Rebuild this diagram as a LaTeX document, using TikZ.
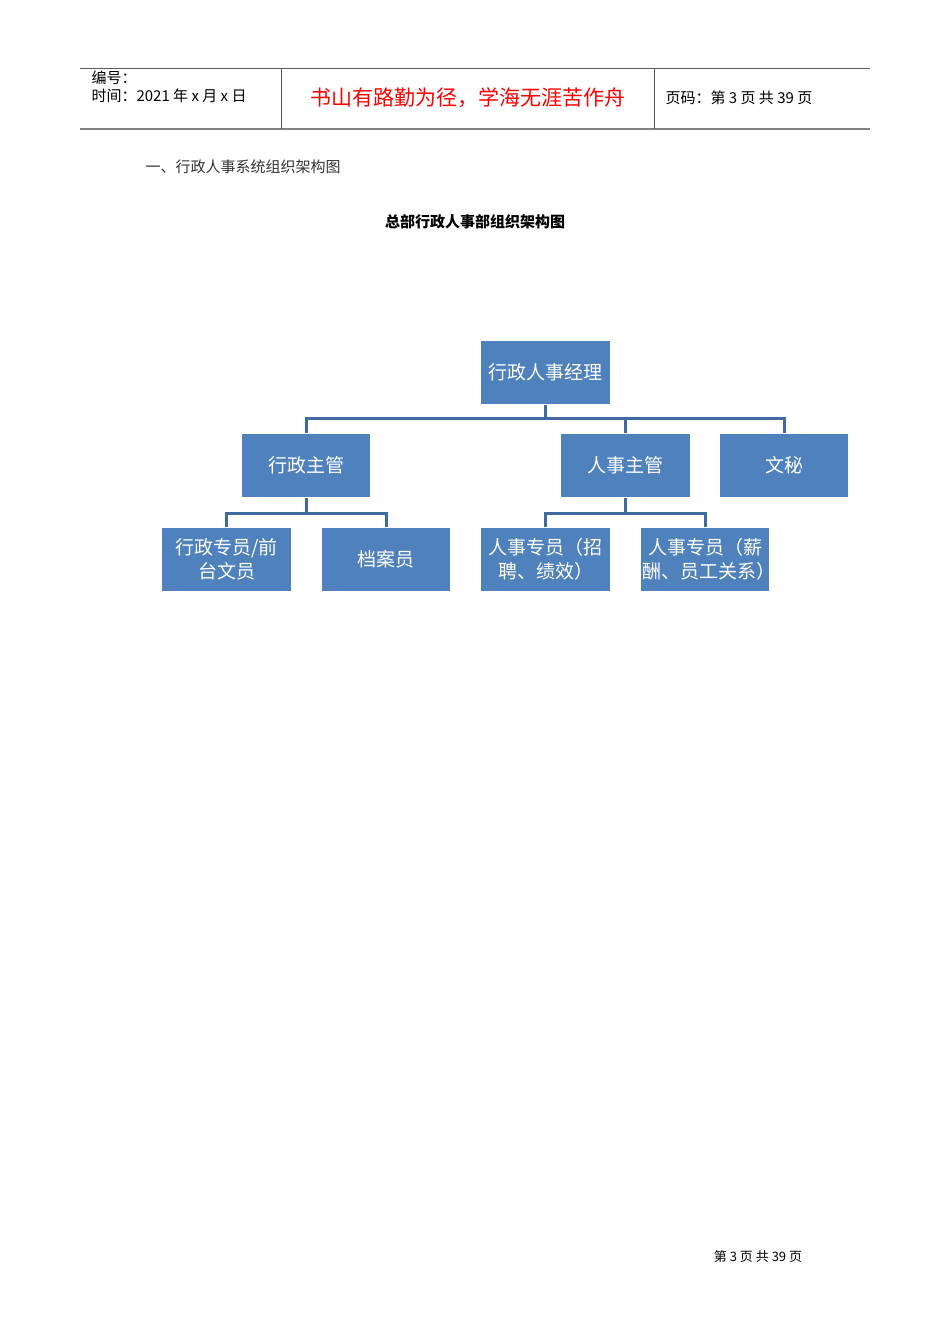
\documentclass[tikz,border=0pt]{standalone}
\usepackage{fontspec}
\setmainfont{Noto Sans CJK SC}
\newfontfamily\cjk{Noto Sans CJK SC}
\begin{document}
\begin{tikzpicture}[x=1pt,y=-1pt,
  box/.style={draw=white,line width=1.5pt,fill=boxblue,minimum width=130pt,minimum height=64pt,inner sep=1pt,text=white,font=\fontsize{19}{24}\selectfont,align=center,text width=126pt},
  conn/.style={draw=lineblue,line width=3pt}]
\definecolor{boxblue}{HTML}{4F81BD}
\definecolor{lineblue}{HTML}{3F6B9E}
\useasboundingbox (0,0) rectangle (950,1344);
% header
\draw[line width=0.8pt,gray!70!black] (80,68) -- (870,68);
\draw[line width=1.2pt,gray] (80,129) -- (870,129);
\draw[line width=0.6pt,gray!70!black] (281,68) -- (281,129) (654,68) -- (654,129);
\node[anchor=west,font=\fontsize{15}{17}\selectfont] (h1) at (88,78) {编号：};
\node[anchor=west,font=\fontsize{15}{17}\selectfont] (h2) at (88,96) {时间：2021 年 x 月 x 日};
\node[font=\fontsize{21}{24}\selectfont,text=red] (h3) at (468,98) {书山有路勤为径，学海无涯苦作舟};
\node[anchor=west,font=\fontsize{15}{17}\selectfont] (h4) at (662,98) {页码：第 3 页 共 39 页};
\node[anchor=west,font=\fontsize{15}{17}\selectfont,text=black!80] (t1) at (142,167) {一、行政人事系统组织架构图};
\node[font=\bfseries\fontsize{15}{17}\selectfont] (t2) at (475,222) {总部行政人事部组织架构图};
\node[font=\fontsize{13}{15}\selectfont] (ft) at (758,1257) {第 3 页 共 39 页};
% boxes
\node[box] (m) at (545.5,372.5) {行政人事经理};
\node[box] (a) at (306,465.5) {行政主管};
\node[box] (r) at (625.5,465.5) {人事主管};
\node[box] (w) at (784,465.5) {文秘};
\node[box] (a1) at (226.5,559.5) {行政专员/前\\台文员};
\node[box] (a2) at (386,559.5) {档案员};
\node[box] (r1) at (545.5,559.5) {人事专员（招\\聘、绩效）};
\node[box] (r2) at (705,559.5) {人事专员（薪\\酬、员工关系）};
% connectors
\coordinate (b1) at (545.5,418);
\draw[conn] (m.south) -- (b1);
\draw[conn] (a.north) |- (b1) -| (w.north);
\draw[conn] (r.north) -- (r.north |- b1);
\coordinate (b2) at (306,513);
\draw[conn] (a.south) -- (b2);
\draw[conn] (a1.north) |- (b2) -| (a2.north);
\coordinate (b3) at (625.5,513);
\draw[conn] (r.south) -- (b3);
\draw[conn] (r1.north) |- (b3) -| (r2.north);
\end{tikzpicture}
\end{document}
